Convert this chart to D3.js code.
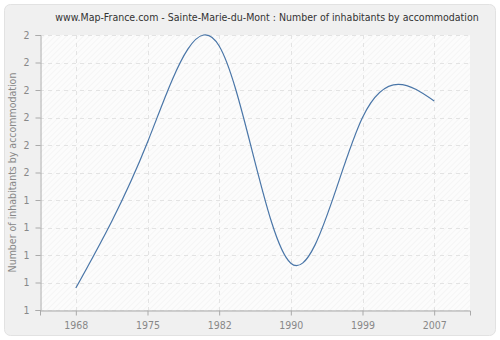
<!DOCTYPE html>
<html>
<head>
<meta charset="utf-8">
<script src="https://cdn.jsdelivr.net/npm/d3@7"></script>
<style>
  body { margin: 0; background: #ffffff; }
  svg { display: block; }
</style>
</head>
<body>
<div id="chart"></div>
<script>
// data
const years = ["1968", "1975", "1982", "1990", "1999", "2007"];
const inhabitants = [1.08, 1.61, 1.96, 1.17, 1.70, 1.76];
const yTicks = [1, 1.1, 1.2, 1.3, 1.4, 1.5, 1.6, 1.7, 1.8, 1.9, 2];

const width = 500;
const height = 340;
const margin = { top: 35, right: 30, bottom: 30, left: 40 };
const font = "'DejaVu Sans Condensed', 'DejaVu Sans', Verdana, sans-serif";

const svg = d3.select("#chart")
  .append("svg")
  .attr("width", width)
  .attr("height", height);

// hatch pattern for the plot background
const defs = svg.append("defs");
const pat = defs.append("pattern")
  .attr("id", "hatch")
  .attr("width", 4)
  .attr("height", 4)
  .attr("patternUnits", "userSpaceOnUse")
  .attr("patternTransform", "rotate(45)");
pat.append("rect").attr("width", 4).attr("height", 4).attr("fill", "#fcfcfc");
pat.append("line")
  .attr("x1", 0).attr("y1", 0).attr("x2", 0).attr("y2", 4)
  .attr("stroke", "#efefef").attr("stroke-width", 1);

// outer panel
svg.append("rect")
  .attr("x", 4.5)
  .attr("y", 4.5)
  .attr("width", width - 9)
  .attr("height", height - 9)
  .attr("rx", 6)
  .attr("fill", "#f0f0f0")
  .attr("stroke", "#e2e2e2");

const x = d3.scalePoint()
  .domain(years)
  .range([margin.left, width - margin.right])
  .padding(0.5);

const y = d3.scaleLinear()
  .domain([1, 2])
  .range([height - margin.bottom, margin.top]);

// plot area
svg.append("rect")
  .attr("x", margin.left)
  .attr("y", margin.top)
  .attr("width", width - margin.left - margin.right)
  .attr("height", height - margin.top - margin.bottom)
  .attr("fill", "url(#hatch)");

// grid lines
svg.append("g")
  .selectAll("line")
  .data(yTicks)
  .join("line")
  .attr("x1", margin.left)
  .attr("x2", width - margin.right)
  .attr("y1", d => Math.round(y(d)) + 0.5)
  .attr("y2", d => Math.round(y(d)) + 0.5)
  .attr("stroke", "#e3e3e3")
  .attr("stroke-dasharray", "4,4");

svg.append("g")
  .selectAll("line")
  .data(years)
  .join("line")
  .attr("x1", d => Math.round(x(d)) + 0.5)
  .attr("x2", d => Math.round(x(d)) + 0.5)
  .attr("y1", margin.top)
  .attr("y2", height - margin.bottom)
  .attr("stroke", "#e3e3e3")
  .attr("stroke-dasharray", "4,4");

// axes
const xAxis = svg.append("g")
  .attr("transform", `translate(0, ${height - margin.bottom + 0.5})`)
  .call(d3.axisBottom(x).tickSize(5).tickPadding(6));

const yAxis = svg.append("g")
  .attr("transform", `translate(${margin.left + 0.5}, 0)`)
  .call(d3.axisLeft(y).tickValues(yTicks).tickFormat(d3.format(".0f")).tickSize(5).tickPadding(6));

[xAxis, yAxis].forEach(a => {
  a.select(".domain").attr("stroke", "#aaaaaa");
  a.selectAll(".tick line").attr("stroke", "#aaaaaa");
  a.selectAll("text")
    .attr("fill", "#888888")
    .style("font-family", font)
    .style("font-size", "10.5px");
});

// line
const line = d3.line()
  .x((d, i) => x(years[i]))
  .y(d => y(d))
  .curve(d3.curveNatural);

svg.append("path")
  .datum(inhabitants)
  .attr("fill", "none")
  .attr("stroke", "#4a76a8")
  .attr("stroke-width", 1.2)
  .attr("d", line);

// title
svg.append("text")
  .attr("x", 267)
  .attr("y", 21)
  .attr("text-anchor", "middle")
  .attr("fill", "#333333")
  .style("font-family", font)
  .style("font-size", "10.5px")
  .text("www.Map-France.com - Sainte-Marie-du-Mont : Number of inhabitants by accommodation");

// y label
svg.append("text")
  .attr("transform", "rotate(-90)")
  .attr("x", -(margin.top + height - margin.bottom) / 2)
  .attr("y", 16)
  .attr("text-anchor", "middle")
  .attr("fill", "#888888")
  .style("font-family", font)
  .style("font-size", "10.5px")
  .text("Number of inhabitants by accommodation");
</script>
</body>
</html>
